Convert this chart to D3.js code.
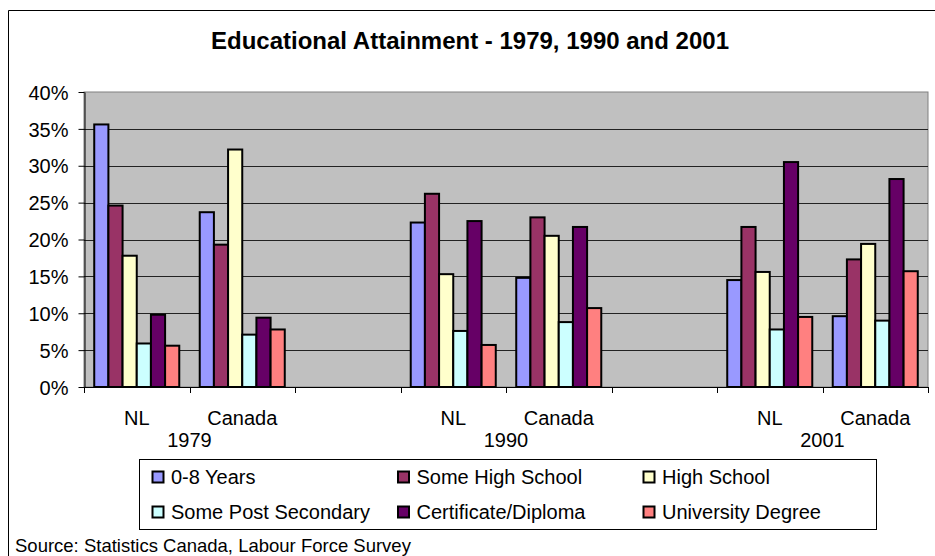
<!DOCTYPE html>
<html>
<head>
<meta charset="utf-8">
<script src="https://cdn.jsdelivr.net/npm/d3@7"></script>
<style>
  body { margin: 0; background: #fff; }
  text { font-family: "Liberation Sans", Arial, sans-serif; fill: #000; }
</style>
</head>
<body>
<div class="view"></div>
<script>
// chart data
const categories = ["NL", "Canada", "", "NL", "Canada", "", "NL", "Canada"];
const years = ["1979", "1990", "2001"];
const seriesNames = ["0-8 Years", "Some High School", "High School",
                     "Some Post Secondary", "Certificate/Diploma", "University Degree"];
const seriesColors = ["#9999FF", "#993366", "#FFFFCC", "#CCFFFF", "#660066", "#FF8080"];
const yTicks = [0, 5, 10, 15, 20, 25, 30, 35, 40];

// one array per series, one value per category (null = empty gap category)
const years08      = [35.6, 23.7, null, 22.3, 14.8, null, 14.5,  9.6];
const someHigh     = [24.6, 19.3, null, 26.2, 23.0, null, 21.7, 17.3];
const highSchool   = [17.8, 32.2, null, 15.3, 20.5, null, 15.6, 19.4];
const somePost     = [ 5.9,  7.1, null,  7.6,  8.8, null,  7.8,  9.0];
const certDiploma  = [ 9.8,  9.4, null, 22.5, 21.7, null, 30.5, 28.2];
const university   = [ 5.6,  7.8, null,  5.7, 10.7, null,  9.5, 15.7];
const seriesValues = [years08, someHigh, highSchool, somePost, certDiploma, university];

const W = 935, H = 556;
const plot = {left: 84, right: 928, top: 92, bottom: 387};

const svg = d3.select(".view").append("svg")
    .attr("width", W)
    .attr("height", H);

// outer chart frame (only left and top edges show)
svg.append("path")
    .attr("d", `M8.5,${H} V10.5 H${W}`)
    .attr("fill", "none")
    .attr("stroke", "#000");

// title
svg.append("text")
    .attr("x", 470)
    .attr("y", 49)
    .attr("text-anchor", "middle")
    .style("font-size", "24px")
    .style("font-weight", "bold")
    .text("Educational Attainment - 1979, 1990 and 2001");

// scales
const x = d3.scaleBand()
    .domain(d3.range(categories.length))
    .range([plot.left, plot.right])
    .padding(0);

const xs = d3.scaleBand()
    .domain(seriesNames)
    .range([x.bandwidth() * 0.097, x.bandwidth() * 0.903]);

const y = d3.scaleLinear()
    .domain([0, 40])
    .range([plot.bottom, plot.top]);

// plot area
svg.append("rect")
    .attr("x", plot.left)
    .attr("y", plot.top)
    .attr("width", plot.right - plot.left)
    .attr("height", plot.bottom - plot.top)
    .attr("fill", "#C0C0C0")
    .attr("stroke", "#808080");

// gridlines
svg.append("g").selectAll("line")
    .data(yTicks.slice(1, -1))
    .join("line")
    .attr("x1", plot.left)
    .attr("x2", plot.right)
    .attr("y1", d => Math.round(y(d)) + 0.5)
    .attr("y2", d => Math.round(y(d)) + 0.5)
    .attr("stroke", "#222");

// y axis
const yAxis = svg.append("g")
    .attr("transform", `translate(${plot.left + 0.5},0)`)
    .call(d3.axisLeft(y).tickValues(yTicks).tickSize(6).tickSizeOuter(0)
        .tickFormat(d => d + "%"));
yAxis.selectAll("text")
    .style("font-size", "20px")
    .attr("x", -16)
    .attr("dy", "0.36em");
yAxis.selectAll("line, path").attr("stroke", "#000");

// bars
const rows = [];
seriesValues.forEach((vals, si) => {
    vals.forEach((v, ci) => {
        if (v !== null) rows.push({series: seriesNames[si], color: seriesColors[si], cat: ci, value: v});
    });
});

svg.append("g").selectAll("rect")
    .data(rows)
    .join("rect")
    .attr("x", d => x(d.cat) + xs(d.series))
    .attr("y", d => y(d.value))
    .attr("width", xs.bandwidth())
    .attr("height", d => plot.bottom - y(d.value))
    .attr("fill", d => d.color)
    .attr("stroke", "#000")
    .attr("stroke-width", 2);

// x axis line and ticks at category boundaries
svg.append("line")
    .attr("x1", plot.left)
    .attr("x2", plot.right)
    .attr("y1", plot.bottom + 0.5)
    .attr("y2", plot.bottom + 0.5)
    .attr("stroke", "#000");

svg.append("g").selectAll("line")
    .data(d3.range(categories.length + 1))
    .join("line")
    .attr("x1", i => Math.round(plot.left + i * x.bandwidth()) + 0.5)
    .attr("x2", i => Math.round(plot.left + i * x.bandwidth()) + 0.5)
    .attr("y1", plot.bottom)
    .attr("y2", plot.bottom + 6)
    .attr("stroke", "#000");

// category labels
svg.append("g").selectAll("text")
    .data(categories)
    .join("text")
    .attr("x", (d, i) => x(i) + x.bandwidth() / 2)
    .attr("y", 425)
    .attr("text-anchor", "middle")
    .style("font-size", "20px")
    .text(d => d);

// year labels under each NL/Canada pair
svg.append("g").selectAll("text")
    .data(years)
    .join("text")
    .attr("x", (d, i) => x(i * 3 + 1))
    .attr("y", 447)
    .attr("text-anchor", "middle")
    .style("font-size", "20px")
    .text(d => d);

// legend
const legend = svg.append("g");
legend.append("rect")
    .attr("x", 139.5)
    .attr("y", 459.5)
    .attr("width", 737)
    .attr("height", 70)
    .attr("fill", "#fff")
    .attr("stroke", "#000");

const legItems = legend.selectAll("g")
    .data(seriesNames)
    .join("g")
    .attr("transform", (d, i) => `translate(${152 + (i % 3) * 245.5},${i < 3 ? 471 : 506})`);

legItems.append("rect")
    .attr("x", 0.5)
    .attr("y", 0.5)
    .attr("width", 11)
    .attr("height", 11)
    .attr("fill", (d, i) => seriesColors[i])
    .attr("stroke", "#000")
    .attr("stroke-width", 2);

legItems.append("text")
    .attr("x", 19)
    .attr("y", 13)
    .style("font-size", "20px")
    .text(d => d);

// source note
svg.append("text")
    .attr("x", 15)
    .attr("y", 552)
    .style("font-size", "18.5px")
    .text("Source: Statistics Canada, Labour Force Survey");
</script>
</body>
</html>
